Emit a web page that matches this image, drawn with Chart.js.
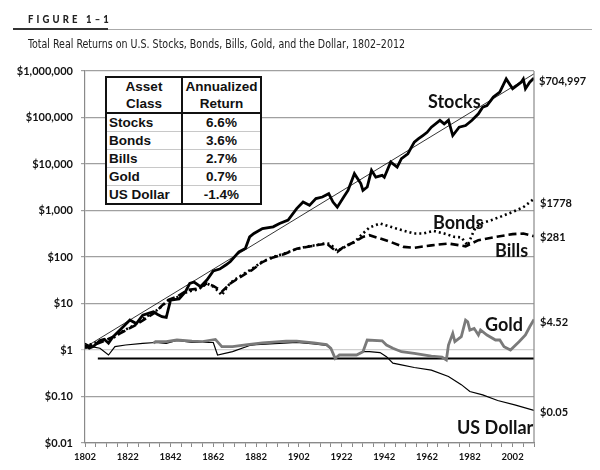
<!DOCTYPE html>
<html><head><meta charset="utf-8">
<script src="https://cdn.jsdelivr.net/npm/chart.js@4.4.1/dist/chart.umd.min.js"></script>
<style>
body{margin:0;background:#fff;}
#wrap{position:relative;width:600px;height:470px;overflow:hidden;font-family:Lato,"Liberation Sans",sans-serif;background:#fff;}
#c{position:absolute;left:0;top:0;}
.t{position:absolute;white-space:nowrap;line-height:1;}
#fig{left:28px;top:11px;font:900 12px Lato,"DejaVu Sans Condensed",sans-serif;letter-spacing:4px;color:#222;transform-origin:0 0;}
#rule1{position:absolute;left:13px;top:28px;width:95px;height:2px;background:#333;}
#rule2{position:absolute;left:108px;top:29px;width:484px;height:1px;background:#aaa;}
#sub{left:28px;top:36px;font:13px "Liberation Sans Narrow","DejaVu Sans Condensed",sans-serif;color:#222;transform-origin:0 0;}
#tbl{position:absolute;left:105px;top:76px;width:157px;border-collapse:collapse;font:bold 13.5px "Liberation Sans",Arial,sans-serif;color:#111;background:#fff;border:2px solid #111;}
#tbl td{padding:0 2px;line-height:17px;height:17px;border-top:1px solid #c8c8c8;}
#tbl td.v{text-align:center;border-left:2px solid #111;}
#tbl tr.h td{height:34px;text-align:center;border-bottom:2px solid #111;}
.lab{font:bold 18px Lato,sans-serif;color:#111;}
.val{font:bold 11px Lato,sans-serif;color:#111;}
</style></head>
<body>
<div id="wrap">
<canvas id="c" width="600" height="470"></canvas>
<div class="t" id="fig">FIGURE 1–1</div>
<div id="rule1"></div><div id="rule2"></div>
<div class="t" id="sub">Total Real Returns on U.S. Stocks, Bonds, Bills, Gold, and the Dollar, 1802–2012</div>
<table id="tbl">
<tr class="h"><td style="width:70px">Asset<br>Class</td><td class="v">Annualized<br>Return</td></tr>
<tr><td>Stocks</td><td class="v">6.6%</td></tr>
<tr><td>Bonds</td><td class="v">3.6%</td></tr>
<tr><td>Bills</td><td class="v">2.7%</td></tr>
<tr><td>Gold</td><td class="v">0.7%</td></tr>
<tr><td>US Dollar</td><td class="v">-1.4%</td></tr>
</table>
<div class="t lab" style="left:428px;top:90px">Stocks</div>
<div class="t lab" style="left:433px;top:211px">Bonds</div>
<div class="t lab" style="left:495px;top:239px">Bills</div>
<div class="t lab" style="left:485px;top:313px">Gold</div>
<div class="t lab" style="left:457px;top:416px">US Dollar</div>
<div class="t val" style="left:539px;top:74px">$704,997</div>
<div class="t val" style="left:540px;top:196px">$1778</div>
<div class="t val" style="left:540px;top:230px">$281</div>
<div class="t val" style="left:540px;top:315px">$4.52</div>
<div class="t val" style="left:540px;top:405px">$0.05</div>
</div>
<script>
// ---- data ----
const stockYears = [1802,1804,1806,1809,1811,1813,1815,1818,1820,1823,1826,1829,1832,1834,1836,1838,1840,1842,1846,1849,1851,1853,1856,1859,1862,1865,1868,1870,1874,1877,1879,1881,1885,1890,1893,1897,1901,1904,1907,1910,1913,1916,1918,1920,1923,1925,1928,1931,1932,1934,1936,1938,1941,1942,1945,1948,1950,1953,1956,1958,1960,1962,1964,1968,1970,1972,1974,1977,1980,1983,1986,1988,1990,1993,1996,1999,2002,2006,2007,2008,2010,2012];
const stockValues = [1.3,1.1,1.2,1.6,1.7,1.4,1.9,2.6,3.2,4.4,3.7,5.6,6.2,6.6,5.8,5.2,5.0,11.8,12.5,18,27,29,23,32,50,55,68,80,129,152,270,320,410,445,525,620,1100,1520,1290,1800,1950,2300,1520,1180,1950,2700,6200,3800,2700,3200,7300,5200,5700,5200,11000,8600,13000,16600,29500,35000,41000,48000,62000,87000,73000,87000,41000,62000,67000,87000,120000,166000,180000,275000,350000,675000,415000,575000,675000,415000,575000,704997];

const trendYears = [1802,2012];
const trendValues = [1.14,870000];

const bondYears = [1802,1810,1815,1820,1825,1830,1835,1838,1841,1845,1850,1855,1859,1862,1864,1866,1868,1870,1875,1880,1885,1890,1895,1901,1905,1910,1915,1917,1920,1923,1928,1932,1935,1940,1945,1950,1956,1960,1965,1970,1975,1978,1981,1984,1987,1992,1996,2002,2007,2012];
const bondValues = [1.2,1.6,1.8,2.6,3.4,5.0,6.8,8.8,11.8,13.5,18,20,27,23,19,15,21,28,40,55,80,100,118,150,165,180,200,185,135,160,210,320,430,525,445,380,320,320,365,320,270,265,178,380,525,620,725,930,1180,1778];

const billYears = [1802,1810,1815,1820,1825,1830,1835,1838,1841,1845,1850,1855,1859,1862,1864,1866,1870,1875,1880,1885,1890,1895,1901,1905,1910,1915,1918,1920,1923,1928,1932,1935,1940,1945,1951,1956,1964,1972,1980,1986,1994,2002,2007,2012];
const billValues = [1.1,1.5,1.9,2.5,3.3,4.6,6.5,9,12,14,19.5,21,27,24,21,18,27,38,52,78,98,115,150,162,178,195,150,129,165,210,270,295,250,210,165,158,178,195,170,230,270,310,320,281];

const goldYears = [1834,1835,1840,1845,1852,1857,1863,1866,1871,1878,1885,1896,1901,1909,1915,1917,1919,1921,1929,1932,1934,1941,1943,1946,1950,1956,1964,1969,1971,1972,1974,1975,1978,1980,1981,1982,1984,1986,1987,1990,1994,1996,1998,2001,2005,2008,2010,2012];
const goldValues = [1.4,1.51,1.51,1.64,1.55,1.51,1.69,1.18,1.18,1.3,1.42,1.55,1.55,1.42,1.3,1.09,0.66,0.78,0.78,0.92,1.64,1.58,1.28,1.09,0.92,0.85,0.74,0.7,0.61,1.28,2.28,1.51,1.93,4.4,4.05,2.69,2.92,2.1,2.69,2.1,1.64,1.64,1.18,1.0,1.51,2.1,3.16,4.52];

const dollarYears = [1802,1805,1809,1813,1816,1821,1829,1835,1840,1845,1852,1862,1864,1871,1879,1882,1895,1901,1909,1915,1917,1919,1921,1929,1932,1935,1940,1943,1946,1950,1956,1964,1972,1978,1982,1988,1995,2003,2012];
const dollarValues = [1.39,1.18,1.09,0.78,1.18,1.28,1.39,1.45,1.39,1.6,1.45,1.45,0.78,0.92,1.25,1.3,1.4,1.45,1.35,1.25,1.05,0.66,0.78,0.78,0.92,0.92,0.88,0.72,0.52,0.48,0.42,0.37,0.27,0.18,0.128,0.108,0.082,0.066,0.05];

const baseYears = [1808,2012];
const baseValues = [0.66,0.66];

const yTickValues = [0.01,0.1,1,10,100,1000,10000,100000,1000000];
const yTickLabels = ['$0.01','$0.10','$1','$10','$100','$1,000','$10,000','$100,000','$1,000,000'];
const firstYear = 1802, lastYear = 2012;

function pts(xs, ys){ return xs.map((x,i)=>({x:x, y:ys[i]})); }

function fit(id,w){const el=document.getElementById(id);const r=el.getBoundingClientRect().width;el.style.transform='scaleX('+(w/r)+')';}
fit('sub',377); fit('fig',84);

Chart.defaults.font.family = 'Lato, "Liberation Sans", sans-serif';

const frame = {
  id:'frame',
  afterDraw(chart){
    const a = chart.chartArea, ctx = chart.ctx;
    ctx.save(); ctx.strokeStyle='#8a8a8a'; ctx.lineWidth=1.2;
    ctx.beginPath(); ctx.moveTo(a.right, a.top); ctx.lineTo(a.right, a.bottom); ctx.stroke();
    ctx.restore();
  }
};

new Chart(document.getElementById('c'), {
  type:'line',
  data:{ datasets:[
    {data:pts(stockYears,stockValues), borderColor:'#000', borderWidth:2.8},
    {data:pts(trendYears,trendValues), borderColor:'#000', borderWidth:0.8},
    {data:pts(bondYears,bondValues), borderColor:'#000', borderWidth:2.6, borderDash:[2,3]},
    {data:pts(billYears,billValues), borderColor:'#000', borderWidth:2.6, borderDash:[8,4]},
    {data:pts(goldYears,goldValues), borderColor:'#7a7a7a', borderWidth:2.8},
    {data:pts(dollarYears,dollarValues), borderColor:'#000', borderWidth:1.2},
    {data:pts(baseYears,baseValues), borderColor:'#000', borderWidth:2}
  ]},
  options:{
    responsive:false, animation:false,
    elements:{point:{radius:0}, line:{tension:0, fill:false}},
    layout:{padding:{left:0, right:66, top:71, bottom:0}},
    plugins:{legend:{display:false}, tooltip:{enabled:false}},
    scales:{
      x:{type:'linear', min:firstYear, max:lastYear,
        afterFit(s){ s.height = 27; },
        afterBuildTicks(s){ const t=[]; for(let y=firstYear;y<=lastYear;y+=5) t.push({value:y}); s.ticks=t; },
        ticks:{autoSkip:false, maxRotation:0, padding:4, color:'#111', font:{size:9.5, weight:'bold'},
          callback:(v)=> ((v-firstYear)%20===0 ? String(v) : '')},
        grid:{drawOnChartArea:false, tickLength:4, color:'#8a8a8a'},
        border:{color:'#8a8a8a', width:1.2}
      },
      y:{type:'logarithmic', min:0.01, max:1000000,
        afterFit(s){ s.width = 85; },
        afterBuildTicks(s){ s.ticks = yTickValues.map(v=>({value:v})); },
        ticks:{autoSkip:false, padding:8, color:'#111', font:{size:11, weight:'bold'},
          callback:(v,i)=> yTickLabels[i]},
        grid:{tickLength:4, color:(c)=> (c.tick && c.tick.value===1 ? '#cfcfcf' : '#a0a0a0'), lineWidth:1.2},
        border:{color:'#8a8a8a', width:1.2}
      }
    }
  },
  plugins:[frame]
});
</script>
</body></html>
